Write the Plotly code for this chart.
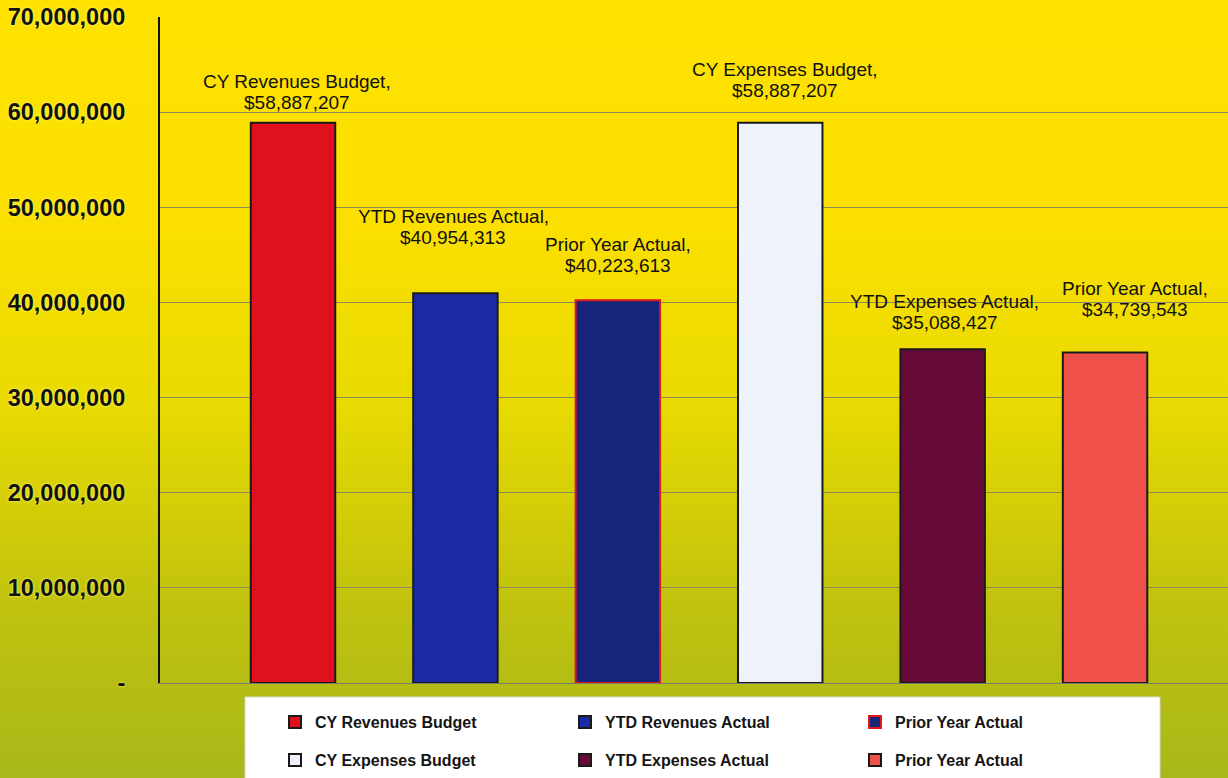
import base64
import plotly.graph_objects as go

# ---- data ----
categories = ["CY Revenues Budget", "YTD Revenues Actual", "Prior Year Actual",
              "CY Expenses Budget", "YTD Expenses Actual", "Prior Year Actual "]
legend_names = ["CY Revenues Budget", "YTD Revenues Actual", "Prior Year Actual",
                "CY Expenses Budget", "YTD Expenses Actual", "Prior Year Actual"]
values = [58887207, 40954313, 40223613, 58887207, 35088427, 34739543]
tick_values = [0, 10000000, 20000000, 30000000, 40000000, 50000000, 60000000, 70000000]
tick_labels = ["-", "10,000,000", "20,000,000", "30,000,000", "40,000,000",
               "50,000,000", "60,000,000", "70,000,000"]

# ---- styles ----
fill_colors = ["#E0101C", "#1C2AA8", "#16247A", "#EEF2FA", "#680A38", "#F0504A"]
line_colors = ["#1a1a1a", "#1a1a1a", "#E01818", "#1a1a1a", "#1a1a1a", "#1a1a1a"]
label_yshift = [20, 56, 35, 32, 27, 43]      # px from bar top to centre of the value line
label_xshift = [4, -2, 0, 5, 2, 30]
LINE_GAP = 21
FONT = "Arial, 'Liberation Sans', sans-serif"

fig = go.Figure()
for i, (cat, name, v) in enumerate(zip(categories, legend_names, values)):
    fig.add_trace(go.Bar(
        x=[cat], y=[v], name=name, width=0.52,
        marker=dict(color=fill_colors[i], line=dict(color=line_colors[i], width=2)),
        legend="legend" if i < 3 else "legend2",
        hovertemplate="%{y:$,.0f}<extra></extra>",
    ))
    for txt, extra in ((f"{name},", LINE_GAP), (f"${v:,.0f}", 0)):
        fig.add_annotation(
            x=cat, y=v, xref="x", yref="y",
            text=txt, showarrow=False,
            yanchor="middle", yshift=label_yshift[i] + extra, xshift=label_xshift[i],
            font=dict(family=FONT, size=19, color="#111111"),
        )

# gradient background as an svg image
svg = ("<svg xmlns='http://www.w3.org/2000/svg' width='1228' height='778' "
       "viewBox='0 0 1228 778' preserveAspectRatio='none'>"
       "<defs><linearGradient id='g' x1='0' y1='0' x2='0' y2='1'>"
       "<stop offset='0' stop-color='#FFE200'/>"
       "<stop offset='0.30' stop-color='#FADF00'/>"
       "<stop offset='0.52' stop-color='#E8DA02'/>"
       "<stop offset='0.78' stop-color='#C0C20E'/>"
       "<stop offset='1' stop-color='#A8B81A'/>"
       "</linearGradient></defs>"
       "<rect x='0' y='0' width='1228' height='778' fill='url(#g)'/></svg>")
src = "data:image/svg+xml;base64," + base64.b64encode(svg.encode()).decode()

W, H = 1228, 778
L, R, T, B = 160, 0, 17, 95
pw, ph = W - L - R, H - T - B

def px_x(p):
    return (p - L) / pw

def px_y(p):
    return (H - B - p) / ph

fig.add_layout_image(dict(
    source=src, xref="paper", yref="paper",
    x=px_x(0), y=px_y(0), sizex=W / pw, sizey=H / ph,
    xanchor="left", yanchor="top", sizing="stretch", layer="below",
))

# white legend box
fig.add_shape(type="rect", xref="paper", yref="paper",
              x0=px_x(245), x1=px_x(1160), y0=px_y(800), y1=px_y(697),
              fillcolor="white", line=dict(color="#d8d8d0", width=1), layer="below")

legend_common = dict(
    orientation="h", xanchor="left", yanchor="middle",
    bgcolor="rgba(0,0,0,0)", borderwidth=0,
    entrywidth=245, entrywidthmode="pixels",
    font=dict(family=FONT, size=16, color="#151515", weight="bold"),
    itemclick=False, itemdoubleclick=False,
)
fig.update_layout(
    width=W, height=H,
    margin=dict(l=L, r=R, t=T, b=B, autoexpand=False),
    paper_bgcolor="#FFE200",
    plot_bgcolor="rgba(0,0,0,0)",
    barmode="overlay",
    showlegend=True,
    legend=dict(x=px_x(275), y=px_y(722), **legend_common),
    legend2=dict(x=px_x(275), y=px_y(760), **legend_common),
    xaxis=dict(
        type="category", range=[-0.819, 5.757], showticklabels=False,
        showgrid=False, zeroline=False, showline=True, linecolor="#7a7a6a", linewidth=1,
    ),
    yaxis=dict(
        range=[0, 70000000], tickvals=tick_values, ticktext=tick_labels,
        showgrid=True, gridcolor="#8c8a5a", gridwidth=1,
        zeroline=False, showline=True, linecolor="#111111", linewidth=2,
        ticks="", ticklabelstandoff=28,
        tickfont=dict(family=FONT, size=23.5, color="#111111", weight="bold",
                      shadow="0px 0px 3px #FFFF70"),
    ),
    font=dict(family=FONT),
)

fig.write_html("out.html", config={"displayModeBar": False},
               post_script="document.body.style.margin='0';")
